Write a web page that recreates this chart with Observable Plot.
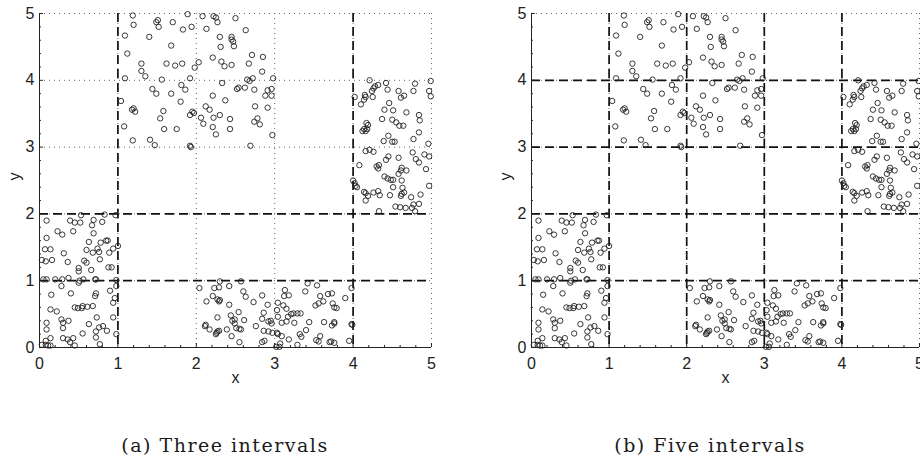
<!DOCTYPE html>
<html><head><meta charset="utf-8">
<script src="https://cdn.jsdelivr.net/npm/d3@7"></script>
<script src="https://cdn.jsdelivr.net/npm/@observablehq/plot@0.6"></script>
<style>
body{margin:0;background:#fff;width:920px;height:458px;position:relative;overflow:hidden}
.panel{position:absolute;top:0}
.cap{position:absolute;top:435px;line-height:20px;font-family:"DejaVu Serif",serif;font-size:19px;letter-spacing:1.5px;text-align:center;width:440px;color:#1a1a1a;white-space:nowrap}
</style></head><body>
<div id="a" class="panel" style="left:0"></div>
<div id="b" class="panel" style="left:460px"></div>
<div class="cap" style="left:5px">(a) Three intervals</div>
<div class="cap" style="left:490px">(b) Five intervals</div>
<script>
const regionA = [[0.53,1.98],[0.83,1.99],[0.97,1.98],[0.09,1.90],[0.39,1.90],[0.45,1.87],[0.52,1.87],[0.69,1.91],[0.67,1.83],[0.80,1.88],[0.23,1.74],[0.29,1.69],[0.43,1.74],[0.69,1.71],[0.09,1.64],[0.63,1.58],[0.78,1.57],[0.85,1.60],[0.87,1.60],[0.07,1.47],[0.14,1.47],[0.31,1.41],[0.60,1.46],[0.68,1.42],[0.74,1.48],[0.76,1.43],[1.00,1.52],[0.94,1.48],[0.89,1.42],[0.03,1.31],[0.08,1.29],[0.16,1.31],[0.36,1.28],[0.57,1.30],[0.60,1.27],[0.77,1.32],[0.50,1.19],[0.50,1.14],[0.66,1.16],[0.88,1.20],[0.92,1.20],[0.05,1.02],[0.09,1.02],[0.20,1.02],[0.29,1.02],[0.37,1.04],[0.51,1.00],[0.56,1.02],[0.71,1.02],[0.72,1.02],[0.98,1.01],
[0.28,0.92],[0.50,0.97],[0.98,0.92],[0.90,0.85],[0.15,0.79],[0.40,0.81],[0.72,0.81],[0.71,0.77],[0.96,0.74],[0.94,0.67],[0.45,0.60],[0.49,0.59],[0.54,0.59],[0.55,0.62],[0.61,0.61],[0.68,0.62],[0.14,0.57],[0.22,0.54],[0.94,0.45],[0.73,0.45],[0.28,0.42],[0.30,0.37],[0.30,0.29],[0.37,0.40],[0.09,0.37],[0.09,0.27],[0.63,0.35],[0.76,0.30],[0.81,0.32],[0.86,0.25],[0.72,0.24],[0.55,0.21],[0.98,0.20],[0.14,0.14],[0.30,0.14],[0.36,0.12],[0.43,0.14],[0.39,0.08],[0.08,0.10],[0.72,0.15],[0.77,0.05],[0.45,0.03],[0.03,0.04],[0.08,0.04],[0.11,0.03],[0.14,0.03]];
const regionB = [[1.19,4.97],[1.51,4.90],[1.49,4.87],[1.52,4.80],[1.20,4.83],[1.70,4.87],[1.89,4.99],[2.08,4.96],[2.22,4.96],[2.25,4.94],[2.27,4.87],[2.50,4.93],[1.94,4.80],[1.83,4.76],[2.13,4.77],[2.63,4.75],[1.09,4.67],[1.40,4.65],[2.30,4.65],[2.45,4.65],[2.45,4.61],[2.47,4.58],[1.68,4.52],[2.31,4.50],[2.48,4.51],[1.12,4.40],[2.71,4.38],[2.85,4.35],[2.21,4.34],[1.30,4.25],[1.30,4.14],[1.35,4.06],[1.62,4.25],[1.73,4.22],[1.82,4.25],[2.03,4.27],[1.98,4.19],[2.32,4.28],[2.36,4.21],[2.45,4.23],[2.67,4.25],[2.84,4.13],[1.09,4.03],[1.56,4.01],[1.92,4.03],[2.65,4.01],[2.68,3.99],[2.72,4.03],[2.98,4.03],[2.33,3.96],[1.81,3.93],[1.44,3.87],[1.49,3.80],[1.86,3.86],[1.68,3.80],[2.52,3.87],[2.54,3.89],[2.62,3.89],[2.74,3.86],[2.91,3.85],[2.96,3.87],[2.88,3.77],[2.96,3.77],[2.21,3.77],[1.04,3.69],[1.80,3.68],[2.37,3.70],[1.18,3.56],[1.20,3.58],[1.22,3.53],[1.58,3.54],[1.95,3.53],[1.97,3.51],[1.92,3.48],[2.12,3.61],[2.17,3.56],[2.06,3.44],[2.09,3.35],[2.22,3.44],[2.30,3.48],[2.43,3.42],[1.54,3.43],[2.75,3.61],[2.91,3.59],[2.78,3.43],[2.74,3.38],[2.81,3.34],[1.08,3.31],[1.59,3.27],[1.75,3.27],[2.21,3.30],[2.43,3.27],[2.25,3.19],[2.97,3.18],[1.19,3.10],[1.41,3.11],[1.47,3.03],[1.92,3.02],[1.93,3.00],[2.69,3.02]];
const regionC = [[2.04,0.89],[2.23,0.89],[2.29,0.90],[2.30,0.99],[2.42,0.92],[2.57,0.99],[2.60,0.84],[2.63,0.76],[2.13,0.69],[2.21,0.77],[2.27,0.72],[2.29,0.69],[2.30,0.71],[2.42,0.64],[2.73,0.68],[2.84,0.78],[2.91,0.64],[3.04,0.67],[3.03,0.56],[3.13,0.86],[3.12,0.77],[3.18,0.78],[3.11,0.63],[3.15,0.58],[3.42,0.96],[3.54,0.93],[3.39,0.84],[3.58,0.77],[3.68,0.80],[3.73,0.81],[3.62,0.69],[3.52,0.63],[3.56,0.66],[3.74,0.66],[3.76,0.60],[3.79,0.59],[3.90,0.74],[3.98,0.89],[2.27,0.45],[2.44,0.48],[2.46,0.40],[2.49,0.42],[2.49,0.36],[2.54,0.53],[2.61,0.41],[2.12,0.34],[2.11,0.32],[2.17,0.27],[2.26,0.22],[2.27,0.24],[2.29,0.25],[2.25,0.20],[2.39,0.27],[2.51,0.29],[2.55,0.28],[2.57,0.27],[2.45,0.17],[2.55,0.08],[2.76,0.32],[2.84,0.43],[2.86,0.52],[2.92,0.39],[2.95,0.40],[2.96,0.36],[3.04,0.46],[3.09,0.37],[3.15,0.39],[3.17,0.46],[3.21,0.50],[3.24,0.51],[3.29,0.51],[3.33,0.51],[3.25,0.37],[3.44,0.38],[3.63,0.38],[3.73,0.33],[3.76,0.36],[3.76,0.38],[2.86,0.25],[2.92,0.24],[2.97,0.22],[3.03,0.22],[3.04,0.20],[3.09,0.17],[2.84,0.08],[2.87,0.10],[3.02,0.01],[3.06,0.01],[3.07,0.06],[3.18,0.12],[3.29,0.04],[3.32,0.20],[3.34,0.16],[3.40,0.26],[3.53,0.11],[3.56,0.09],[3.58,0.17],[3.72,0.09],[3.76,0.07],[3.70,0.08],[3.95,0.10],[3.98,0.35],[3.99,0.34]];
const regionD = [[4.21,4.00],[4.32,3.93],[4.28,3.91],[4.26,3.88],[4.24,3.84],[4.42,3.96],[4.44,3.86],[4.02,3.75],[4.15,3.78],[4.16,3.75],[4.14,3.71],[4.10,3.64],[4.25,3.75],[4.58,3.84],[4.65,3.77],[4.61,3.74],[4.79,3.95],[4.77,3.84],[4.99,3.99],[4.97,3.84],[4.99,3.76],[4.46,3.66],[4.40,3.56],[4.37,3.42],[4.51,3.55],[4.50,3.41],[4.55,3.37],[4.59,3.32],[4.68,3.52],[4.84,3.48],[4.85,3.40],[4.64,3.32],[4.17,3.36],[4.19,3.33],[4.14,3.27],[4.12,3.24],[4.16,3.24],[4.18,3.27],[4.84,3.22],[4.45,3.17],[4.39,3.09],[4.50,3.08],[4.53,3.08],[4.77,3.12],[4.96,3.05],[4.16,2.94],[4.21,2.96],[4.26,2.93],[4.76,2.92],[4.91,2.89],[4.97,2.86],[4.58,2.84],[4.45,2.86],[4.42,2.81],[4.80,2.82],[4.84,2.77],[4.08,2.73],[4.30,2.71],[4.32,2.68],[4.33,2.73],[4.62,2.69],[4.61,2.65],[4.68,2.65],[4.40,2.56],[4.44,2.53],[4.51,2.51],[4.48,2.51],[4.58,2.60],[4.93,2.67],[4.00,2.50],[4.02,2.46],[4.03,2.42],[4.05,2.40],[4.62,2.50],[4.97,2.42],[4.51,2.40],[4.63,2.39],[4.14,2.33],[4.16,2.31],[4.19,2.27],[4.16,2.20],[4.26,2.32],[4.32,2.34],[4.34,2.28],[4.62,2.30],[4.65,2.32],[4.61,2.27],[4.47,2.28],[4.74,2.25],[4.86,2.29],[4.54,2.11],[4.60,2.10],[4.67,2.09],[4.77,2.14],[4.84,2.15],[4.75,2.09],[4.33,2.04],[4.79,2.04]];

const tickValues = [0, 1, 2, 3, 4, 5];
const minorTicks = [0.2,0.4,0.6,0.8,1.2,1.4,1.6,1.8,2.2,2.4,2.6,2.8,3.2,3.4,3.6,3.8,4.2,4.4,4.6,4.8];
const gridLines = [1, 2, 3, 4, 5];
const cutsThreeX = [1, 4];
const cutsThreeY = [1, 2];
const cutsFiveX = [1, 2, 3, 4];
const cutsFiveY = [1, 2, 3, 4];
const xLabel = "x";
const yLabel = "y";

const points = [...regionA, ...regionB, ...regionC, ...regionD];

function panel(cutsX, cutsY, mL, mR, yLabelDx) {
  const dash = {stroke: "#111", strokeWidth: 1.7, strokeDasharray: "9,5"};
  const dot = {stroke: "#666", strokeWidth: 1, strokeDasharray: "1,4"};
  const ax = {stroke: "#222", strokeWidth: 1};
  return Plot.plot({
    width: 460, height: 400,
    marginLeft: mL, marginRight: mR, marginTop: 13, marginBottom: 53,
    style: {fontFamily: "'Liberation Sans', Arial, sans-serif", fontSize: "16px", color: "#222", background: "white", overflow: "visible"},
    x: {domain: [0, 5], ticks: 5, tickSize: 0, tickPadding: 10, label: null},
    y: {domain: [0, 5], ticks: 5, tickSize: 0, tickPadding: 5, label: null},
    marks: [
      Plot.ruleX(gridLines, dot),
      Plot.ruleY(gridLines, dot),
      Plot.ruleX(cutsX, dash),
      Plot.ruleY(cutsY, dash),
      Plot.dot(points, {x: d => d[0], y: d => d[1], r: 2.7, stroke: "#222", strokeWidth: 0.9}),
      Plot.ruleX([0], ax),
      Plot.ruleY([0], ax),
      Plot.ruleX(tickValues, {y1: 0, y2: 0.06, ...ax}),
      Plot.ruleY(tickValues, {x1: 0, x2: 0.05, ...ax}),
      Plot.ruleX(minorTicks, {y1: 0, y2: 0.03, ...ax}),
      Plot.ruleY(minorTicks, {x1: 0, x2: 0.025, ...ax}),
      Plot.text([xLabel], {text: d => d, frameAnchor: "bottom", dy: 35, fontSize: 16, fill: "#222"}),
      Plot.text([yLabel], {text: d => d, frameAnchor: "left", dx: yLabelDx, rotate: -90, fontSize: 16, fill: "#222"})
    ]
  });
}

document.getElementById("a").append(panel(cutsThreeX, cutsThreeY, 39, 29, -25));
document.getElementById("b").append(panel(cutsFiveX, cutsFiveY, 71, 1, -26));
</script>
</body></html>
